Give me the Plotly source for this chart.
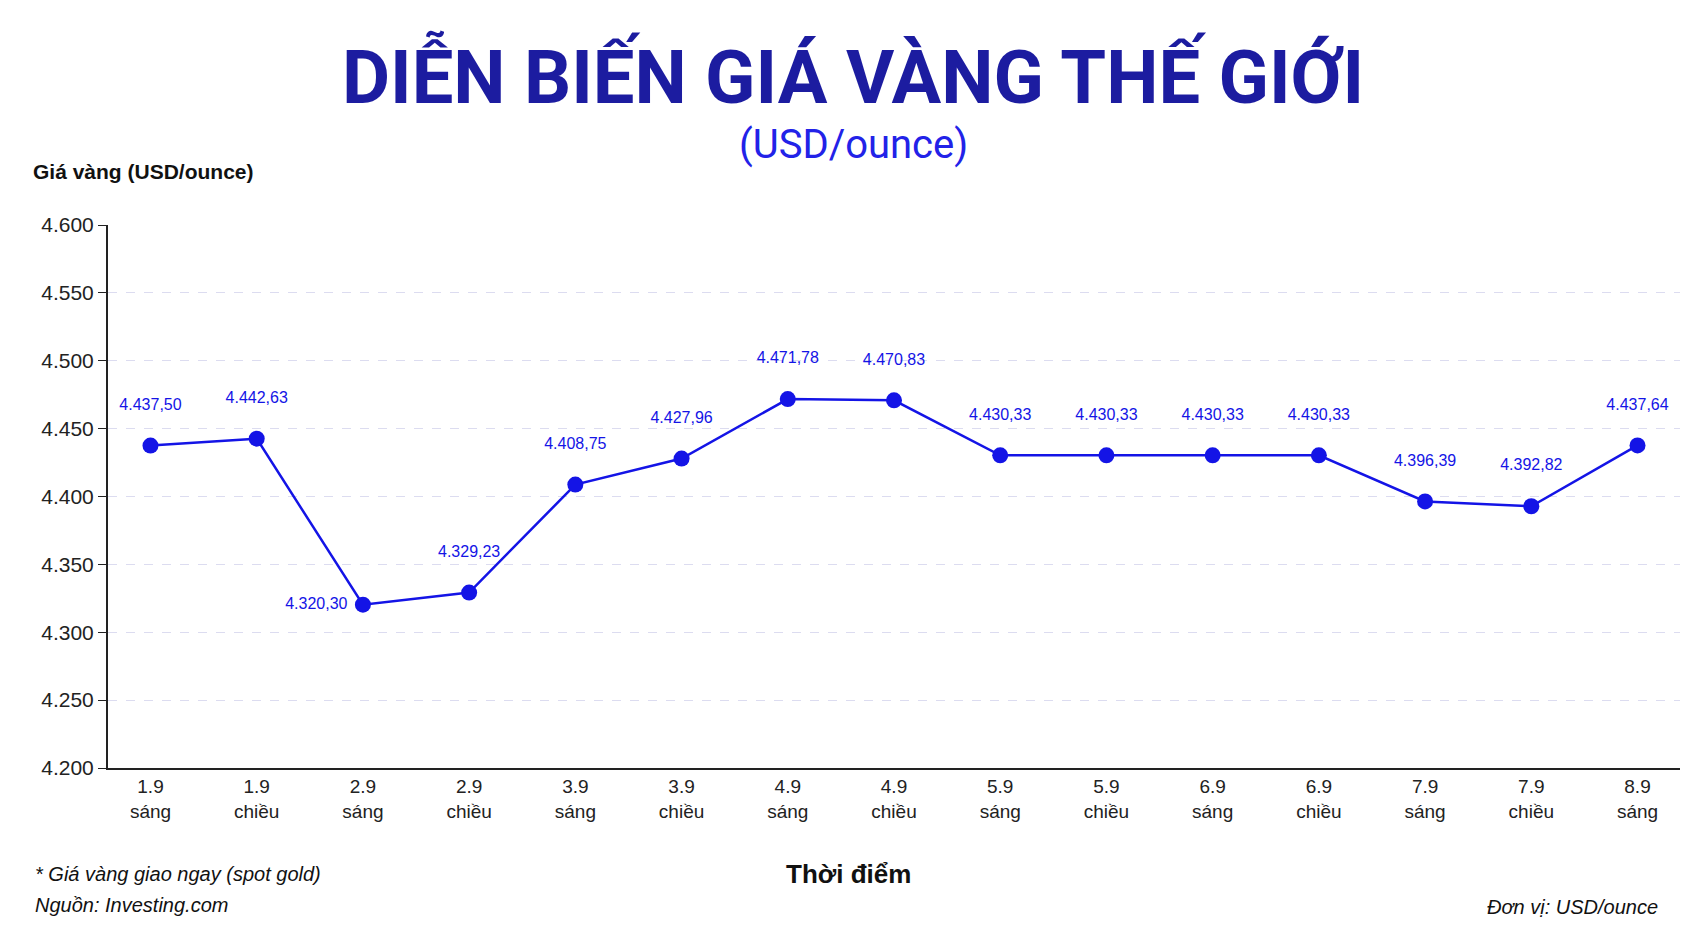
import plotly.graph_objects as go

categories = ["1.9<br>sáng", "1.9<br>chiều", "2.9<br>sáng", "2.9<br>chiều", "3.9<br>sáng",
              "3.9<br>chiều", "4.9<br>sáng", "4.9<br>chiều", "5.9<br>sáng", "5.9<br>chiều",
              "6.9<br>sáng", "6.9<br>chiều", "7.9<br>sáng", "7.9<br>chiều", "8.9<br>sáng"]
prices = [4437.50, 4442.63, 4320.30, 4329.23, 4408.75, 4427.96, 4471.78, 4470.83,
          4430.33, 4430.33, 4430.33, 4430.33, 4396.39, 4392.82, 4437.64]
y_ticks = [4200, 4250, 4300, 4350, 4400, 4450, 4500, 4550, 4600]


def vn(v, dec=2):
    s = f"{v:,.{dec}f}"
    return s.replace(",", "X").replace(".", ",").replace("X", ".")


label_pos = ["top center"] * len(prices)
label_pos[2] = "middle left"

FONT = "Liberation Sans, Arial, sans-serif"
BLUE = "#1414e6"
W, H = 1690, 931
L, R, T, B = 100, 18, 217, 171
PW, PH = W - L - R, H - T - B


def px_x(x):
    return (x - L) / PW


def px_y(y):
    return (H - B - y) / PH


fig = go.Figure()
fig.add_trace(go.Scatter(
    x=list(range(len(categories))), y=prices,
    mode="lines+markers+text",
    line=dict(color=BLUE, width=2.5),
    marker=dict(color=BLUE, size=16),
    text=[vn(p) + ("&nbsp;" if pos == "middle left" else "<br>&nbsp;") for p, pos in zip(prices, label_pos)],
    textposition=label_pos,
    textfont=dict(color=BLUE, size=16, family=FONT),
    cliponaxis=False,
    hoverinfo="skip",
))

fig.update_layout(
    width=W, height=H,
    paper_bgcolor="white", plot_bgcolor="white",
    margin=dict(l=L, r=R, t=T, b=B),
    showlegend=False,
    font=dict(family=FONT, color="#111"),
    xaxis=dict(
        tickmode="array", tickvals=list(range(len(categories))), ticktext=categories,
        range=[-0.4, 14.4], showgrid=False, showline=True, linecolor="#222", linewidth=2,
        ticks="", tickfont=dict(size=19, color="#222"), zeroline=False,
    ),
    yaxis=dict(
        range=[4200, 4600], tickvals=y_ticks, ticktext=[vn(t, 0) for t in y_ticks],
        showgrid=True, gridcolor="#dcdcf0", griddash="dash", gridwidth=1,
        showline=True, linecolor="#222", linewidth=2, ticks="outside", ticklen=8,
        tickcolor="#222", tickfont=dict(size=21, color="#222"), zeroline=False,
    ),
)

texts = [
    ("<b>DIỄN BIẾN GIÁ VÀNG THẾ GIỚI</b>", 845, 68, 74, "#1c1ca0", "Roboto, sans-serif", "center"),
    ("(USD/ounce)", 845, 137, 40, "#2222e8", "Roboto, sans-serif", "center"),
    ("<b>Thời điểm</b>", 840, 866, 26, "#111", FONT, "center"),
    ("<b>Giá vàng (USD/ounce)</b>", 23, 164, 21, "#111", FONT, "left"),
    ("<i>* Giá vàng giao ngay (spot gold)</i>", 25, 866, 20, "#111", FONT, "left"),
    ("<i>Nguồn: Investing.com</i>", 25, 897, 20, "#111", FONT, "left"),
    ("<i>Đơn vị: USD/ounce</i>", 1652, 899, 20, "#111", FONT, "right"),
]
for text, x, y, size, color, family, anchor in texts:
    fig.add_annotation(text=text, x=px_x(x), y=px_y(y), xref="paper", yref="paper",
                       xanchor=anchor, yanchor="middle", showarrow=False,
                       font=dict(size=size, color=color, family=family))

fig.write_html("out.html")
